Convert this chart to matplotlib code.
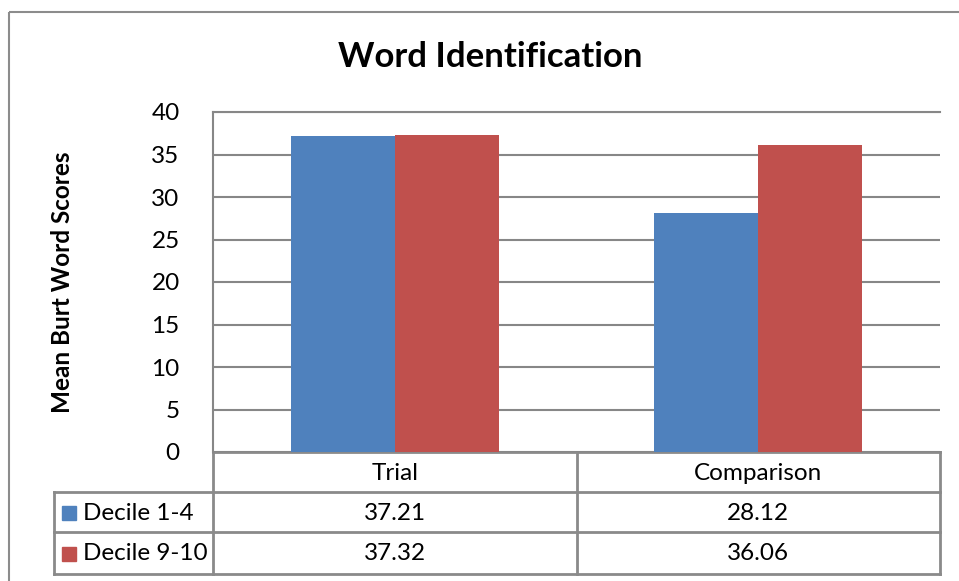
import matplotlib
matplotlib.use("Agg")
import matplotlib.pyplot as plt
import numpy as np
from matplotlib.patches import Rectangle

categories = ["Trial", "Comparison"]
series_names = ["Decile 1-4", "Decile 9-10"]
decile_1_4 = [37.21, 28.12]
decile_9_10 = [37.32, 36.06]
yticks = [0, 5, 10, 15, 20, 25, 30, 35, 40]
title = "Word Identification"
ylabel = "Mean Burt Word Scores"

colors = ["#4F81BD", "#C0504D"]
grid_c = "#878787"
FONT = "Lato"
plt.rcParams["font.family"] = [FONT, "DejaVu Sans"]
FS = 17.5

W, H = 959, 581
fig = plt.figure(figsize=(W / 100, H / 100), dpi=100)

# background axes in pixel coordinates for border and table
bg = fig.add_axes([0, 0, 1, 1])
bg.set_xlim(0, W)
bg.set_ylim(H, 0)
bg.axis("off")
bg.add_patch(Rectangle((9, 12), 1000, 700, fill=False, edgecolor="#8c8c8c", lw=1.5))

L, R, T, B = 213, 940, 112, 452
ax = fig.add_axes([L / W, 1 - B / H, (R - L) / W, (B - T) / H])
x = np.arange(len(categories)) + 0.5
bw = 0.286
series = [decile_1_4, decile_9_10]
for i, (vals, c) in enumerate(zip(series, colors)):
    ax.bar(x + (i - 0.5) * bw, vals, width=bw, color=c, zorder=3)
ax.set_xlim(0, len(categories))
ax.set_ylim(0, 40)
ax.set_yticks(yticks)
ax.set_yticklabels([str(t) for t in yticks], fontsize=FS)
ax.tick_params(axis="y", length=0, pad=24)
ax.set_xticks([])
ax.grid(axis="y", color=grid_c, lw=1.5, zorder=0)
for s in ["right", "bottom"]:
    ax.spines[s].set_visible(False)
for s in ["left", "top"]:
    ax.spines[s].set_color(grid_c)
    ax.spines[s].set_linewidth(1.5)

fig.text(490 / W, 1 - 57 / H, title, fontsize=25, fontweight="bold", ha="center", va="center")
fig.text(62 / W, 1 - 282 / H, ylabel, fontsize=FS, fontweight="bold", rotation=90, ha="center", va="center")

# data table
tc = "#8a8a8a"
lw = 2
rows_y = [452, 492, 532, 574]
col_x = [L, (L + R) / 2, R]
leg_x = 54
bg.plot([L, R], [rows_y[0], rows_y[0]], color=tc, lw=lw)
for yy in rows_y[1:]:
    bg.plot([leg_x, R], [yy, yy], color=tc, lw=lw)
for xx in col_x:
    bg.plot([xx, xx], [rows_y[0], rows_y[3]], color=tc, lw=lw)
bg.plot([leg_x, leg_x], [rows_y[1], rows_y[3]], color=tc, lw=lw)

for j, cat in enumerate(categories):
    cx = (col_x[j] + col_x[j + 1]) / 2
    bg.text(cx, (rows_y[0] + rows_y[1]) / 2 + 1, cat, fontsize=FS, ha="center", va="center")
for i, (name, vals, c) in enumerate(zip(series_names, series, colors)):
    cy = (rows_y[i + 1] + rows_y[i + 2]) / 2 + 1
    bg.add_patch(Rectangle((62, cy - 7), 14, 14, color=c))
    bg.text(83, cy, name, fontsize=FS, ha="left", va="center")
    for j, v in enumerate(vals):
        cx = (col_x[j] + col_x[j + 1]) / 2
        bg.text(cx, cy, f"{v:.2f}", fontsize=FS, ha="center", va="center")

fig.savefig("out.png", dpi=100)
